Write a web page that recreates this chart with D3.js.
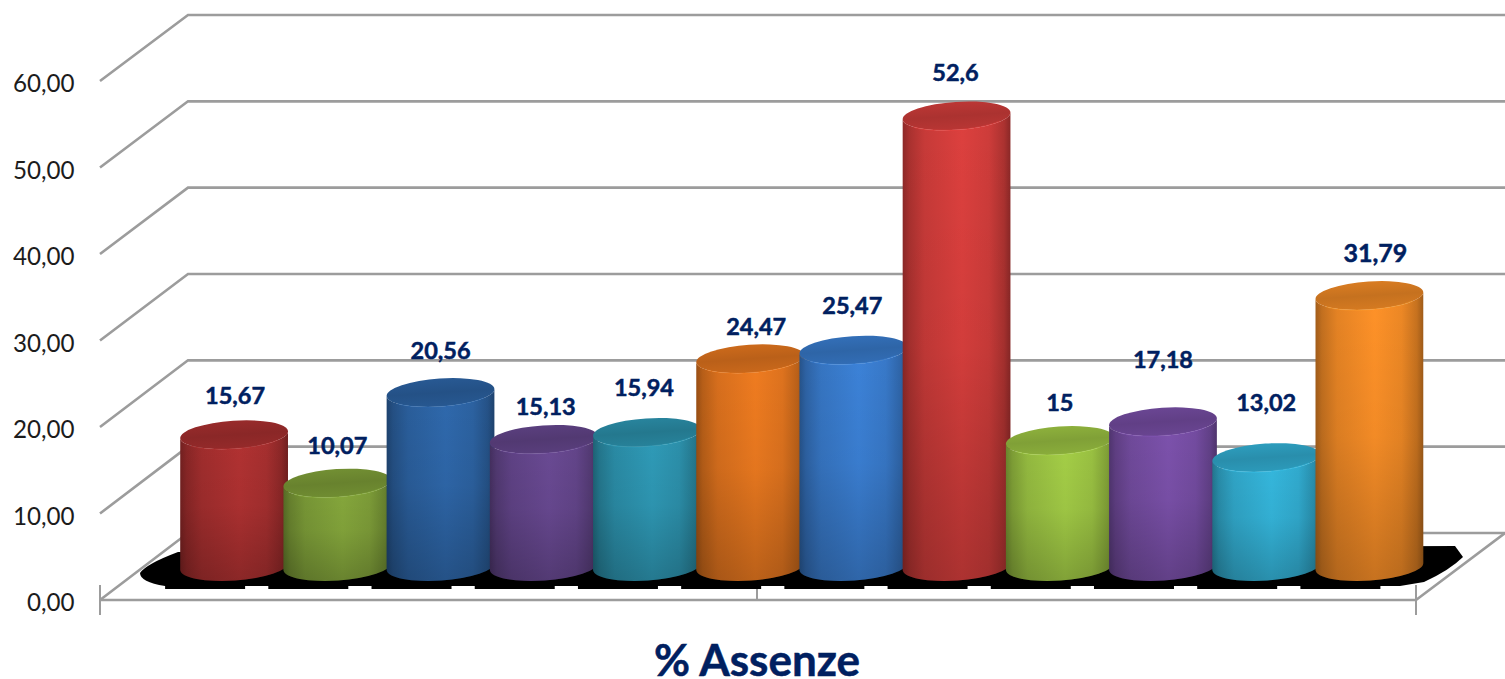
<!DOCTYPE html>
<html><head><meta charset="utf-8">
<script src="https://cdn.jsdelivr.net/npm/d3@7/dist/d3.min.js"></script>
<style>html,body{margin:0;padding:0;background:#fff;overflow:hidden}svg{display:block}text{font-family:Lato,"Open Sans",sans-serif}</style>
</head><body><svg id="c" width="1505" height="679"></svg>
<script>
const categories = ["1","2","3","4","5","6","7","8","9","10","11","12"];
const values = [15.67,10.07,20.56,15.13,15.94,24.47,25.47,52.6,15,17.18,13.02,31.79];
const barColors = ["#b23232","#86a83c","#2f69ad","#6a4a94","#2f9bb8","#f07c20","#3c82d8","#dd403e","#a5cf47","#7d52ad","#35b8de","#ff9228"];
const tickValues = [0,10,20,30,40,50,60];
const tickLabels = ["0,00","10,00","20,00","30,00","40,00","50,00","60,00"];
const chartTitle = "% Assenze";

// layout
const labelNudgeY = [7,9,5,14,2,14,2,3,8,-16,-9,4.5];
const labelNudgeX = [1,0,0,2,-3,6,-1,-1,0,0,0,6];
const labelSize = [23.5,23.5,23.5,23.5,23.5,23.5,23.5,23.5,23.5,23.5,23.5,25];
const svg = d3.select("#c"), defs = svg.append("defs");
const yFront = d3.scaleLinear().domain([0,60]).range([600,81]);
const yBack = d3.scaleLinear().domain([0,60]).range([533,15]);
const yBar = d3.scaleLinear().domain([0,60]).range([570,52]);
const x = d3.scaleBand().domain(categories).range([182.5,1421]).paddingInner(0).paddingOuter(0);
const GRID="#9c9c9c", NAVY="#002060";
const frontL=100, frontR=1416, backL=188, backR=1505;

// walls and floor
const grid=svg.append("g").attr("fill","none").attr("stroke",GRID).attr("stroke-width",2.6);
tickValues.forEach(t=>{
  grid.append("path").attr("d",`M${frontL},${yFront(t)}L${backL},${yBack(t)}L${backR},${yBack(t)}`);
});
grid.append("path").attr("d",`M${backR},${yBack(0)}L${frontR},${yFront(0)}L${frontL},${yFront(0)}`);
grid.append("path").attr("d",`M${frontL},585V615M${frontR},585V615M757,588V600`).attr("stroke-width",2);

// axis labels
svg.append("g").selectAll("text").data(tickValues).join("text")
  .attr("x",74.5).attr("y",t=>yFront(t)+3).attr("dy","0.35em").attr("text-anchor","end")
  .attr("font-size",24.2).attr("fill","#1c1c1c").text((t,i)=>tickLabels[i]);

// floor shadow
const sh=svg.append("g").attr("fill","#000");
sh.append("path").attr("d","M140,573Q146,564 178,552L1455,546L1463,557Q1450,570 1424,582L1400,586L165,586Q140,582 140,573Z");
sh.selectAll("rect").data(categories).join("rect")
  .attr("x",d=>x(d)+x.bandwidth()/2-29-40).attr("y",584).attr("width",80).attr("height",5);

// cylinders
const rx=54, ry=14, tilt=-3.8, th=tilt*Math.PI/180;
const dx=rx*Math.cos(th), dy=rx*Math.sin(th);
function grad(id,stops,vertical){
  const g=defs.append("linearGradient").attr("id",id).attr("x1",0).attr("y1",0)
    .attr("x2",vertical?0:1).attr("y2",vertical?1:0);
  stops.forEach(s=>g.append("stop").attr("offset",s[0]).attr("stop-color",s[1]).attr("stop-opacity",s[2]===undefined?1:s[2]));
}
grad("shade",[[0,"#000",0],[0.5,"#000",0.05],[1,"#000",0.22]],true);
const bars=svg.append("g");
values.forEach((v,i)=>{
  const c=d3.color(barColors[i]), cx=x(categories[i])+x.bandwidth()/2;
  const top=yBar(v), bot=yBar(0)-3.5;
  grad("b"+i,[[0,c.darker(1.25)],[0.06,c.darker(0.75)],[0.2,c.darker(0.3)],[0.55,c],[0.8,c.darker(0.2)],[0.94,c.darker(0.7)],[1,c.darker(1.3)]]);
  grad("t"+i,[[0,c.darker(0.45)],[0.5,c.darker(0.72)],[1,c.darker(0.5)]],true);
  const body=`M${cx-dx},${top-dy}L${cx-dx},${bot-dy}A${rx},${ry} ${tilt} 0 0 ${cx+dx},${bot+dy}L${cx+dx},${top+dy}A${rx},${ry} ${tilt} 0 1 ${cx-dx},${top-dy}Z`;
  const g=bars.append("g");
  g.append("path").attr("d",body).attr("fill",`url(#b${i})`);
  g.append("path").attr("d",body).attr("fill","url(#shade)");
  g.append("ellipse").attr("rx",rx).attr("ry",ry)
    .attr("transform",`translate(${cx},${top}) rotate(${tilt})`)
    .attr("fill",`url(#t${i})`);
  g.append("path").attr("d",`M${cx-dx*0.8},${top-dy*0.8+ry*0.6}A${rx},${ry} ${tilt} 0 0 ${cx+dx*0.8},${top+dy*0.8+ry*0.6}`)
    .attr("fill","none").attr("stroke",c.brighter(0.25)).attr("stroke-width",1.2).attr("stroke-opacity",0.4);
});

// value labels
svg.append("g").selectAll("text").data(values).join("text")
  .attr("x",(v,i)=>x(categories[i])+x.bandwidth()/2+labelNudgeX[i])
  .attr("y",(v,i)=>yBar(v)-38+labelNudgeY[i])
  .attr("text-anchor","middle").attr("font-size",(v,i)=>labelSize[i]).attr("font-weight",700)
  .attr("fill",NAVY).attr("stroke",NAVY).attr("stroke-width",0.5)
  .text(v=>String(v).replace(".",","));

// title
svg.append("text").attr("x",757).attr("y",676).attr("text-anchor","middle")
  .attr("font-size",44).attr("font-weight",700).attr("fill",NAVY).attr("stroke",NAVY).attr("stroke-width",0.5).text(chartTitle);
</script></body></html>
